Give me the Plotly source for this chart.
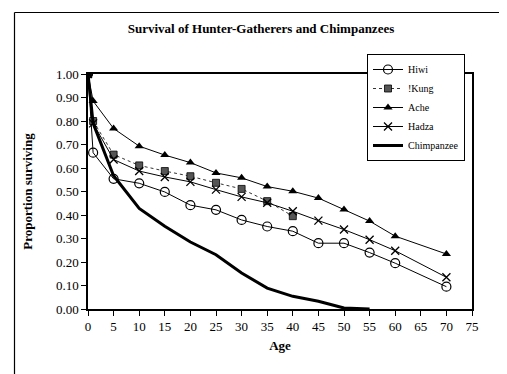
import plotly.graph_objects as go

ages_hiwi = [0, 1, 5, 10, 15, 20, 25, 30, 35, 40, 45, 50, 55, 60, 70]
hiwi = [1.00, 0.665, 0.554, 0.535, 0.498, 0.442, 0.422, 0.379, 0.351, 0.331, 0.280, 0.280, 0.240, 0.195, 0.095]

ages_kung = [0, 1, 5, 10, 15, 20, 25, 30, 35, 40]
kung = [1.00, 0.800, 0.657, 0.611, 0.587, 0.565, 0.537, 0.511, 0.459, 0.395]

ages_ache = [0, 1, 5, 10, 15, 20, 25, 30, 35, 40, 45, 50, 55, 60, 70]
ache = [1.00, 0.885, 0.768, 0.693, 0.655, 0.623, 0.579, 0.558, 0.521, 0.501, 0.472, 0.423, 0.374, 0.310, 0.234]

ages_hadza = [0, 1, 5, 10, 15, 20, 25, 30, 35, 40, 45, 50, 55, 60, 70]
hadza = [1.00, 0.790, 0.636, 0.587, 0.562, 0.541, 0.508, 0.477, 0.452, 0.416, 0.376, 0.338, 0.295, 0.248, 0.135]

ages_chimp = [0, 1, 5, 10, 15, 20, 25, 30, 35, 40, 45, 50, 55]
chimp = [1.00, 0.790, 0.567, 0.428, 0.352, 0.285, 0.231, 0.153, 0.089, 0.054, 0.033, 0.004, 0.0]

x_ticks = list(range(0, 80, 5))
y_ticks = [i / 10 for i in range(11)]

FONT = "Liberation Serif"

fig = go.Figure()
fig.add_trace(go.Scatter(x=ages_hiwi, y=hiwi, name="Hiwi", mode="lines+markers",
                         line=dict(color="black", width=1),
                         marker=dict(symbol="circle-open", size=9, color="black", line=dict(width=1.2))))
fig.add_trace(go.Scatter(x=ages_kung, y=kung, name="!Kung", mode="lines+markers",
                         line=dict(color="#333333", width=1, dash="dot"),
                         marker=dict(symbol="square", size=7, color="#555555", line=dict(color="black", width=0.8))))
fig.add_trace(go.Scatter(x=ages_ache, y=ache, name="Ache", mode="lines+markers",
                         line=dict(color="black", width=1),
                         marker=dict(symbol="triangle-up", size=8, color="black")))
fig.add_trace(go.Scatter(x=ages_hadza, y=hadza, name="Hadza", mode="lines+markers",
                         line=dict(color="black", width=1),
                         marker=dict(symbol="x-thin-open", size=8, color="black", line=dict(color="black", width=1.3))))
fig.add_trace(go.Scatter(x=ages_chimp, y=chimp, name="Chimpanzee", mode="lines",
                         line=dict(color="black", width=3)))

fig.update_layout(
    width=507, height=374,
    margin=dict(l=80, r=43, t=66, b=73),
    paper_bgcolor="white", plot_bgcolor="white",
    font=dict(family=FONT, color="black", size=13),
    title=dict(text="<b>Survival of Hunter-Gatherers and Chimpanzees</b>",
               x=0.499, xanchor="center", y=1 - 20 / 374, yanchor="middle", yref="container",
               font=dict(family=FONT, size=13, color="black")),
    showlegend=True,
    legend=dict(x=(457 - 80) / 384, y=(301 - 46) / 235, xanchor="right", yanchor="top",
                bgcolor="white", bordercolor="black", borderwidth=1,
                font=dict(family=FONT, size=10, color="black"),
                tracegroupgap=0, itemwidth=30),
    xaxis=dict(range=[0, 75], tickvals=x_ticks, ticktext=[str(v) for v in x_ticks],
               showgrid=False, zeroline=False, showline=True, linecolor="black", linewidth=1.5,
               mirror=True, ticks="outside", ticklen=5, tickcolor="black",
               tickfont=dict(family=FONT, size=13),
               title=dict(text="<b>Age</b>", font=dict(family=FONT, size=13), standoff=8)),
    yaxis=dict(range=[0, 1.0], tickvals=y_ticks, ticktext=[f"{v:.2f}" for v in y_ticks],
               showgrid=False, zeroline=False, showline=True, linecolor="black", linewidth=1.5,
               mirror=True, ticks="outside", ticklen=5, tickcolor="black",
               tickfont=dict(family=FONT, size=13),
               title=dict(text="<b>Proportion surviving</b>", font=dict(family=FONT, size=13), standoff=20)),
)

# outer chart frame (pixel -> paper conversions of the frame drawn around the chart)
def px_x(p):
    return (p - 80) / 384

def px_y(p):
    return (301 - p) / 235

L, R, T, B = 6.5, 497.5, 4.5, 367.5
for (xa, ya, xb, yb) in [(L, T, R, T), (R, T, R, B), (L, B, R, B), (L, T, L, B)]:
    fig.add_shape(type="line", xref="paper", yref="paper",
                  x0=px_x(xa), y0=px_y(ya), x1=px_x(xb), y1=px_y(yb),
                  line=dict(color="black", width=1.2), layer="above")

fig.write_html("out.html")
